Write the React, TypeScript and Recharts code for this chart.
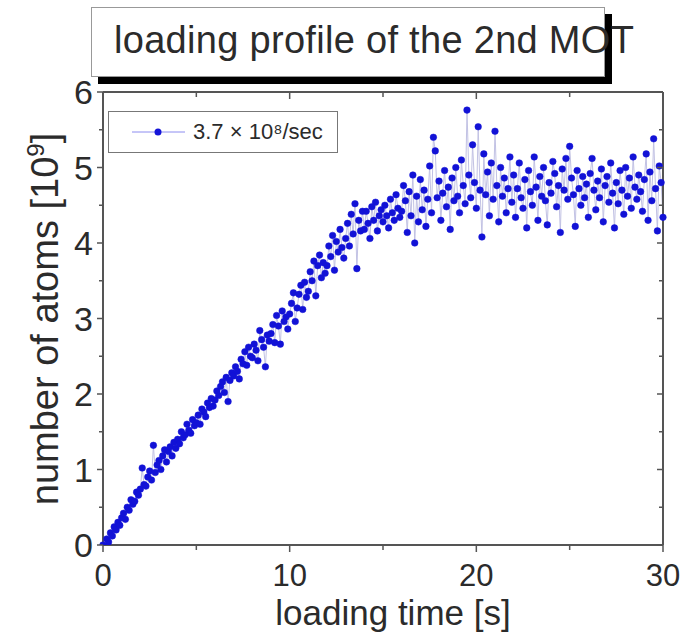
import React from 'react'
import { ComposedChart, Line, XAxis, YAxis, Legend, Label } from 'recharts'

// one sample every 0.1 s, 0 .. 30 s
const sampleStep = 0.1

// number of atoms [1e9], t = 0.0 .. 15.9 s
const atomsRise = [
  0.0, -0.12, 0.08, 0.04, 0.16, 0.12, 0.24, 0.2, 0.3, 0.26,
  0.36, 0.42, 0.34, 0.5, 0.46, 0.6, 0.54, 0.58, 0.7, 0.66,
  0.74, 1.02, 0.8, 0.78, 0.9, 0.98, 0.86, 1.32, 0.96, 1.06,
  1.12, 1.0, 1.18, 1.26, 1.1, 1.24, 1.3, 1.18, 1.36, 1.28,
  1.4, 1.34, 1.5, 1.42, 1.46, 1.6, 1.52, 1.48, 1.66, 1.58,
  1.62, 1.72, 1.6, 1.8, 1.76, 1.7, 1.88, 1.82, 1.94, 1.84,
  1.92, 2.04, 1.98, 2.1, 2.16, 2.02, 2.22, 1.9, 2.18, 2.28,
  2.24, 2.36, 2.3, 2.2, 2.46, 2.4, 2.56, 2.38, 2.62, 2.5,
  2.48, 2.66, 2.58, 2.44, 2.84, 2.72, 2.62, 2.36, 2.78, 2.7,
  2.8, 2.92, 2.68, 3.04, 2.9, 2.66, 3.1, 2.96, 3.02, 2.86,
  3.06, 3.2, 3.34, 2.96, 3.14, 3.32, 3.44, 3.12, 3.48, 3.28,
  3.36, 3.62, 3.5, 3.76, 3.3, 3.7, 3.84, 3.54, 3.74, 3.6,
  3.7, 3.96, 3.82, 4.1, 3.64, 4.02, 3.88, 4.18, 3.94, 3.8,
  4.06, 4.26, 3.96, 4.38, 4.12, 4.52, 3.66, 4.3, 4.16, 4.42,
  4.18, 4.42, 4.26, 4.06, 4.48, 4.3, 4.54, 4.16, 4.36, 4.44,
  4.28, 4.5, 4.36, 4.2, 4.58, 4.4, 4.3, 4.64, 4.46, 4.34,
]

// number of atoms [1e9], t = 16.0 .. 30.0 s
const atomsPlateau = [
  4.42, 4.76, 4.56, 4.14, 4.68, 4.36, 4.9, 4.0, 4.62, 4.28,
  4.84, 4.44, 4.7, 4.22, 4.58, 5.02, 4.4, 5.4, 5.22, 4.6,
  4.82, 4.3, 4.66, 4.96, 4.48, 4.74, 4.18, 4.86, 4.56, 5.0,
  4.62, 4.4, 5.1, 4.76, 4.52, 5.76, 4.9, 4.6, 5.3, 4.8,
  4.46, 5.54, 4.7, 4.08, 5.18, 4.64, 4.94, 4.36, 5.06, 4.58,
  5.48, 4.76, 4.28, 5.0, 4.62, 4.86, 4.4, 4.72, 5.14, 4.54,
  4.9, 4.34, 4.72, 5.06, 4.6, 4.46, 4.84, 4.2, 4.96, 4.68,
  4.5, 5.14, 4.74, 4.3, 4.88, 4.62, 5.0, 4.56, 4.24, 4.8,
  4.66, 5.08, 4.92, 4.48, 4.76, 4.14, 4.98, 4.7, 5.12, 4.58,
  5.28, 4.86, 4.64, 4.22, 4.96, 4.72, 4.5, 4.88, 4.6, 4.78,
  4.34, 4.92, 5.12, 4.7, 4.44, 4.82, 4.6, 4.98, 4.28, 4.76,
  4.88, 4.54, 5.06, 4.66, 4.2, 4.8, 4.52, 4.96, 4.7, 4.38,
  5.0, 4.62, 4.86, 4.46, 5.14, 4.74, 4.58, 4.9, 4.68, 4.42,
  4.84, 5.18, 4.3, 4.94, 4.56, 5.38, 4.72, 4.16, 5.02, 4.8,
  4.34,
]

const xTicks = [0, 5, 10, 15, 20, 25, 30]
const xLabelTicks = [0, 10, 20, 30]
const yTicks = [0, 0.5, 1, 1.5, 2, 2.5, 3, 3.5, 4, 4.5, 5, 5.5, 6]
const yLabelTicks = [0, 1, 2, 3, 4, 5, 6]

const chartTitle = 'loading profile of the 2nd MOT'
const seriesName = '3.7 × 10⁸/sec'

const data = [...atomsRise, ...atomsPlateau].map((n, i) => ({
  t: Math.round(i * sampleStep * 10) / 10,
  n,
}))

const AXIS = '#555'
const INK = '#2b2b2b'
const FONT = '"Liberation Sans", Arial, sans-serif'

// all ticks point down / left, like the original plot
function XTick(props: any) {
  const { x, y, payload, showLabel } = props
  const major = xLabelTicks.includes(payload.value)
  return (
    <g>
      <line x1={x} x2={x} y1={y} y2={y + (major ? 7 : 5)} stroke={AXIS} strokeWidth={1.5} />
      {showLabel && major && (
        <text x={x} y={y + 41} textAnchor="middle" fontSize={31} fill={INK} fontFamily={FONT}>
          {payload.value}
        </text>
      )}
    </g>
  )
}

function YTick(props: any) {
  const { x, y, payload, showLabel } = props
  const major = yLabelTicks.includes(payload.value)
  return (
    <g>
      <line x1={x} x2={x - (major ? 6 : 4)} y1={y} y2={y} stroke={AXIS} strokeWidth={1.5} />
      {showLabel && major && (
        <text x={x - 10} y={y} dy="0.36em" textAnchor="end" fontSize={34} fill={INK} fontFamily={FONT}>
          {payload.value}
        </text>
      )}
    </g>
  )
}

function XTitle() {
  return (
    <text x={393} y={625} textAnchor="middle" fontSize={35} fill={INK} fontFamily={FONT}>
      loading time [s]
    </text>
  )
}

function YTitle() {
  return (
    <text
      x={0}
      y={0}
      transform="translate(58 319) rotate(-90)"
      textAnchor="middle"
      fontSize={38}
      fill={INK}
      fontFamily={FONT}
    >
      number of atoms [10
      <tspan fontSize={24} dy={-14}>9</tspan>
      <tspan dy={14}>]</tspan>
    </text>
  )
}

function LegendBox() {
  return (
    <div
      style={{
        boxSizing: 'border-box',
        width: 230,
        height: 42,
        border: '1.5px solid #777',
        background: '#fff',
        display: 'flex',
        alignItems: 'center',
        fontFamily: FONT,
        fontSize: 22,
        color: INK,
      }}
    >
      <svg width={84} height={20} style={{ flex: 'none' }}>
        <line x1={23} x2={76} y1={10} y2={10} stroke="#8c8cf0" strokeWidth={1} />
        <circle cx={49} cy={10} r={3.5} fill="#1414d8" />
      </svg>
      <span>{seriesName}</span>
    </div>
  )
}

export default function App() {
  return (
    <div style={{ position: 'relative', width: 686, height: 636, background: '#fff' }}>
      <style>{'body{margin:0}'}</style>
      <ComposedChart
        width={686}
        height={636}
        data={data}
        margin={{ top: 91, right: 22, bottom: 0, left: 0 }}
      >
        <XAxis
          xAxisId="b"
          type="number"
          dataKey="t"
          domain={[0, 30]}
          ticks={xTicks}
          height={91}
          axisLine={{ stroke: AXIS, strokeWidth: 2 }}
          tickLine={false}
          tickSize={0}
          tickMargin={0}
          tick={<XTick showLabel />}
          label={<Label content={XTitle} />}
        />
        <XAxis
          xAxisId="t"
          orientation="top"
          type="number"
          dataKey="t"
          domain={[0, 30]}
          ticks={xTicks}
          height={1}
          axisLine={{ stroke: AXIS, strokeWidth: 2 }}
          tickLine={false}
          tickSize={0}
          tickMargin={0}
          tick={<XTick />}
        />
        <YAxis
          yAxisId="l"
          type="number"
          domain={[0, 6]}
          allowDataOverflow
          ticks={yTicks}
          width={103}
          axisLine={{ stroke: AXIS, strokeWidth: 2 }}
          tickLine={false}
          tickSize={0}
          tickMargin={0}
          tick={<YTick showLabel />}
          label={<Label content={YTitle} />}
        />
        <YAxis
          yAxisId="r"
          orientation="right"
          type="number"
          domain={[0, 6]}
          allowDataOverflow
          ticks={yTicks}
          width={1}
          axisLine={{ stroke: AXIS, strokeWidth: 2 }}
          tickLine={false}
          tickSize={0}
          tickMargin={0}
          tick={<YTick />}
        />
        <Legend
          layout="horizontal"
          align="center"
          verticalAlign="middle"
          wrapperStyle={{ left: 108, top: 111, width: 230, height: 42 }}
          content={LegendBox}
        />
        <Line
          xAxisId="b"
          yAxisId="l"
          type="linear"
          dataKey="n"
          name={seriesName}
          stroke="#c2c2e4"
          strokeWidth={1}
          dot={{ r: 3.3, fill: '#1212d6', stroke: '#1212d6', strokeWidth: 0.5 }}
          activeDot={false}
          isAnimationActive={false}
        />
      </ComposedChart>
      <div
        style={{
          position: 'absolute',
          left: 91,
          top: 7,
          width: 514,
          height: 70,
          boxSizing: 'border-box',
          border: '1px solid #999',
          background: '#fff',
          boxShadow: '7px 7px 0 #000',
        }}
      />
      <div
        style={{
          position: 'absolute',
          left: 114,
          top: 13,
          whiteSpace: 'nowrap',
          fontFamily: FONT,
          fontSize: 38,
          letterSpacing: 0.3,
          lineHeight: '54px',
          color: INK,
        }}
      >
        {chartTitle}
      </div>
    </div>
  )
}
